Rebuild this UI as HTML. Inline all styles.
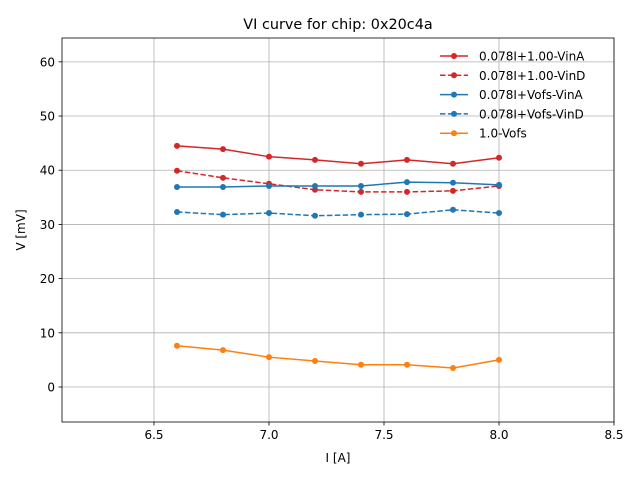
<!DOCTYPE html>
<html><head><meta charset="utf-8"><style>
body{margin:0;background:#fff;font-family:"Liberation Sans","DejaVu Sans",sans-serif;}
svg text{font-family:"DejaVu Sans","Liberation Sans",sans-serif;}
</style></head><body>
<svg id="chart" width="640" height="480" xmlns="http://www.w3.org/2000/svg"></svg>
<script>
const xValues=[6.6,6.8,7.0,7.2,7.4,7.6,7.8,8.0];
const redSolid=[44.5,43.9,42.5,41.9,41.2,41.9,41.2,42.3];
const redDashed=[39.9,38.6,37.5,36.4,36.0,36.0,36.2,37.1];
const blueSolid=[36.9,36.9,37.1,37.1,37.1,37.8,37.7,37.3];
const blueDashed=[32.3,31.8,32.1,31.6,31.8,31.9,32.7,32.1];
const orange=[7.6,6.8,5.5,4.8,4.1,4.1,3.5,5.0];
const xTicks=[6.5,7.0,7.5,8.0,8.5];
const yTicks=[0,10,20,30,40,50,60];
const seriesNames=["0.078I+1.00-VinA","0.078I+1.00-VinD","0.078I+Vofs-VinA","0.078I+Vofs-VinD","1.0-Vofs"];
const L=62,R=614,T=38,B=422,xmin=6.1,xmax=8.5,ymin=-6.46,ymax=64.4;
const sx=v=>L+(v-xmin)/(xmax-xmin)*(R-L);
const sy=v=>B-(v-ymin)/(ymax-ymin)*(B-T);
const svg=document.getElementById('chart');
const NS='http://www.w3.org/2000/svg';
function mk(tag,attrs,parent){const e=document.createElementNS(NS,tag);for(const k in attrs)e.setAttribute(k,attrs[k]);(parent||svg).appendChild(e);return e;}
// grid
xTicks.forEach(t=>{const g=mk('line',{x1:sx(t),x2:sx(t),y1:T,y2:B,stroke:'#b0b0b0','stroke-width':0.8});


mk('line',{x1:sx(t),x2:sx(t),y1:B,y2:B+3.5,stroke:'#000','stroke-width':0.8});
const tx=mk('text',{x:sx(t),y:B+17,'text-anchor':'middle','font-size':12});tx.textContent=t.toFixed(1);

});
yTicks.forEach(t=>{const g=mk('line',{x1:L,x2:R,y1:sy(t),y2:sy(t),stroke:'#b0b0b0','stroke-width':0.8});


mk('line',{x1:L-3.5,x2:L,y1:sy(t),y2:sy(t),stroke:'#000','stroke-width':0.8});
const tx=mk('text',{x:L-7,y:sy(t)+4.5,'text-anchor':'end','font-size':12});tx.textContent=t;

});
const series=[[redSolid,'#d62728',''],[redDashed,'#d62728','5.5,2.4'],[blueSolid,'#1f77b4',''],[blueDashed,'#1f77b4','5.5,2.4'],[orange,'#ff7f0e','']];
series.forEach((s,i)=>{const g=mk('g',{});


mk('polyline',{points:xValues.map((x,j)=>sx(x)+','+sy(s[0][j])).join(' '),fill:'none',stroke:s[1],'stroke-width':1.5,'stroke-dasharray':s[2]},g);
xValues.forEach((x,j)=>{const c=mk('circle',{cx:sx(x),cy:sy(s[0][j]),r:3,fill:s[1]},g);

});
const ly=56+i*19.3;const lg=mk('g',{},svg);


mk('line',{x1:440,x2:468,y1:ly,y2:ly,stroke:s[1],'stroke-width':1.5,'stroke-dasharray':s[2]},lg);
mk('circle',{cx:454,cy:ly,r:3,fill:s[1]},lg);
const lt=mk('text',{x:479,y:ly+4.5,'font-size':12},lg);lt.textContent=seriesNames[i];});
mk('rect',{x:L,y:T,width:R-L,height:B-T,fill:'none',stroke:'#000','stroke-width':0.8});
const title=mk('text',{x:338,y:29,'text-anchor':'middle','font-size':14.4});title.textContent='VI curve for chip: 0x20c4a';


const xl=mk('text',{x:338,y:462,'text-anchor':'middle','font-size':12});xl.textContent='I [A]';


const yl=mk('text',{x:25,y:230,'text-anchor':'middle','font-size':12,transform:'rotate(-90 25 230)'});yl.textContent='V [mV]';


</script>
</body></html>
